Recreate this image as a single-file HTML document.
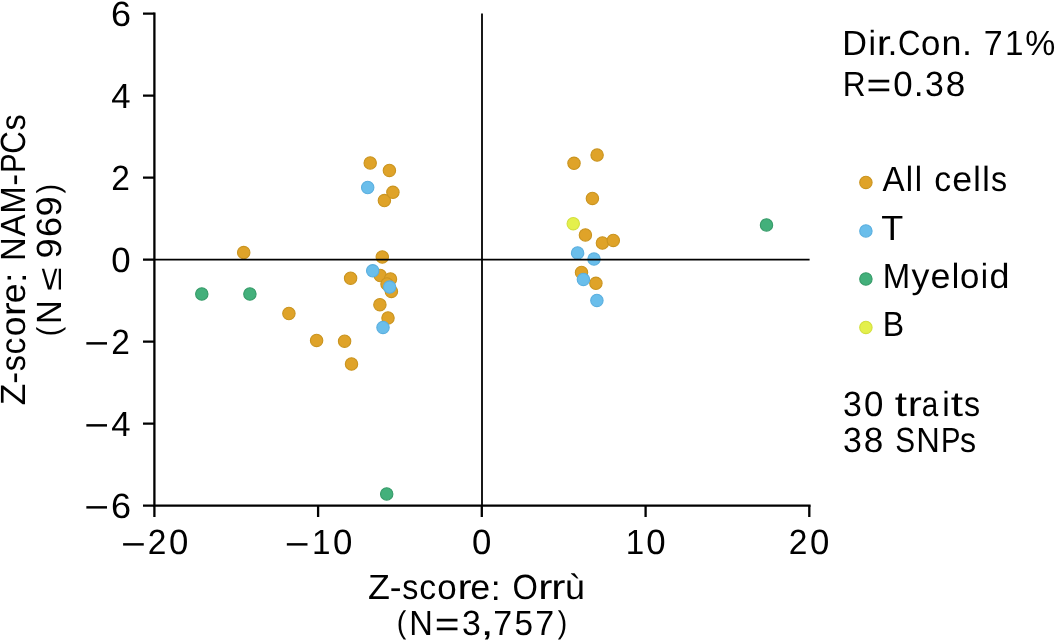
<!DOCTYPE html>
<html><head><meta charset="utf-8">
<style>
html,body{margin:0;padding:0;background:#fff;width:1057px;height:641px;overflow:hidden}
svg{display:block;will-change:transform}
text{font-family:"Liberation Sans",sans-serif;fill:#000;text-rendering:geometricPrecision}
</style></head>
<body>
<svg width="1057" height="641" viewBox="0 0 1057 641">
<rect width="1057" height="641" fill="#fff"/>
<!-- scatter points -->
<g fill="#DFA329" stroke="#CA941F" stroke-width="1.1"><circle cx="243.7" cy="252.6" r="6.2"/><circle cx="288.9" cy="313.5" r="6.2"/><circle cx="316.6" cy="340.4" r="6.2"/><circle cx="344.6" cy="341.2" r="6.2"/><circle cx="351.5" cy="364" r="6.2"/><circle cx="370.2" cy="162.9" r="6.2"/><circle cx="389.4" cy="170.4" r="6.2"/><circle cx="384.4" cy="200.6" r="6.2"/><circle cx="392.9" cy="192.3" r="6.2"/><circle cx="382.3" cy="257" r="6.2"/><circle cx="380.2" cy="275.5" r="6.2"/><circle cx="390.5" cy="278.9" r="6.2"/><circle cx="387" cy="284" r="6.2"/><circle cx="391.4" cy="291.4" r="6.2"/><circle cx="350.6" cy="278.2" r="6.2"/><circle cx="379.9" cy="304.7" r="6.2"/><circle cx="388" cy="318" r="6.2"/><circle cx="574" cy="163.3" r="6.2"/><circle cx="597.1" cy="155.1" r="6.2"/><circle cx="592.4" cy="198.4" r="6.2"/><circle cx="585.4" cy="234.9" r="6.2"/><circle cx="602.4" cy="243" r="6.2"/><circle cx="613.3" cy="240.4" r="6.2"/><circle cx="581.5" cy="272.4" r="6.2"/><circle cx="595.9" cy="283.3" r="6.2"/></g>
<g fill="#6ABEEB" stroke="#5BAFDF" stroke-width="1.1"><circle cx="367.7" cy="187.5" r="6.2"/><circle cx="372.7" cy="270.8" r="6.2"/><circle cx="389.6" cy="287.1" r="6.2"/><circle cx="383" cy="327.4" r="6.2"/><circle cx="577.6" cy="252.9" r="6.2"/><circle cx="594" cy="259.1" r="6.2"/><circle cx="583.4" cy="279.4" r="6.2"/><circle cx="596.9" cy="300.4" r="6.2"/></g>
<g fill="#43B07B" stroke="#379B69" stroke-width="1.1"><circle cx="201.8" cy="294" r="6.2"/><circle cx="249.9" cy="294" r="6.2"/><circle cx="386.7" cy="493.9" r="6.2"/><circle cx="766.5" cy="224.9" r="6.2"/></g>
<g fill="#E4F04C" stroke="#D3DF3E" stroke-width="1.1"><circle cx="573.25" cy="223.7" r="6.2"/></g>
<!-- zero lines -->
<g stroke="#000" stroke-width="1.8"><line x1="482" y1="13.6" x2="482" y2="505.6"/><line x1="154.4" y1="259.7" x2="809.6" y2="259.7"/></g>
<!-- spines and ticks -->
<g stroke="#000" stroke-width="2.3" fill="none"><path d="M154.4 12.5V506.7M153.3 505.6H810.6"/><path d="M143 13.6H154.4M143 95.6H154.4M143 177.6H154.4M143 259.6H154.4M143 341.6H154.4M143 423.6H154.4M143 505.6H154.4"/><path d="M154.4 505.6V517M318.1 505.6V517M481.8 505.6V517M645.6 505.6V517M809.3 505.6V517"/></g>
<!-- legend markers -->
<circle cx="865.9" cy="182.4" r="6.2" fill="#DFA329" stroke="#CA941F" stroke-width="1.1"/>
<circle cx="865.9" cy="230.9" r="6.2" fill="#6ABEEB" stroke="#5BAFDF" stroke-width="1.1"/>
<circle cx="865.9" cy="279" r="6.2" fill="#43B07B" stroke="#379B69" stroke-width="1.1"/>
<circle cx="865.9" cy="327.4" r="6.2" fill="#E4F04C" stroke="#D3DF3E" stroke-width="1.1"/>
<!-- text -->
<text font-size="35.00"><tspan x="111.03" y="26.00" textLength="20.03" lengthAdjust="spacingAndGlyphs">6</tspan></text>
<text font-size="35.00"><tspan x="111.36" y="108.00" textLength="19.34" lengthAdjust="spacingAndGlyphs">4</tspan></text>
<text font-size="35.00"><tspan x="111.31" y="190.00" textLength="18.63" lengthAdjust="spacingAndGlyphs">2</tspan></text>
<text font-size="35.00"><tspan x="111.33" y="272.00" textLength="19.37" lengthAdjust="spacingAndGlyphs">0</tspan></text>
<text font-size="35.00"><tspan x="84.25" y="354.86" textLength="24.84" lengthAdjust="spacingAndGlyphs">−</tspan><tspan x="111.31" y="354.00" textLength="18.63" lengthAdjust="spacingAndGlyphs">2</tspan></text>
<text font-size="35.00"><tspan x="84.25" y="436.86" textLength="24.84" lengthAdjust="spacingAndGlyphs">−</tspan><tspan x="111.36" y="436.00" textLength="19.34" lengthAdjust="spacingAndGlyphs">4</tspan></text>
<text font-size="35.00"><tspan x="84.25" y="518.86" textLength="24.84" lengthAdjust="spacingAndGlyphs">−</tspan><tspan x="111.03" y="518.00" textLength="20.03" lengthAdjust="spacingAndGlyphs">6</tspan></text>
<text font-size="35.00"><tspan x="120.94" y="555.56" textLength="24.86" lengthAdjust="spacingAndGlyphs">−</tspan><tspan x="147.86" y="553.70" textLength="18.65" lengthAdjust="spacingAndGlyphs">2</tspan><tspan x="169.10" y="553.70" textLength="19.34" lengthAdjust="spacingAndGlyphs">0</tspan></text>
<text font-size="35.00"><tspan x="284.73" y="555.56" textLength="24.83" lengthAdjust="spacingAndGlyphs">−</tspan><tspan x="312.12" y="553.70" textLength="18.52" lengthAdjust="spacingAndGlyphs">1</tspan><tspan x="332.88" y="553.70" textLength="19.37" lengthAdjust="spacingAndGlyphs">0</tspan></text>
<text font-size="35.00"><tspan x="472.10" y="553.70" textLength="19.34" lengthAdjust="spacingAndGlyphs">0</tspan></text>
<text font-size="35.00"><tspan x="625.70" y="553.70" textLength="18.47" lengthAdjust="spacingAndGlyphs">1</tspan><tspan x="646.33" y="553.70" textLength="19.37" lengthAdjust="spacingAndGlyphs">0</tspan></text>
<text font-size="35.00"><tspan x="788.86" y="553.70" textLength="18.65" lengthAdjust="spacingAndGlyphs">2</tspan><tspan x="810.10" y="553.70" textLength="19.34" lengthAdjust="spacingAndGlyphs">0</tspan></text>
<text font-size="35.00"><tspan x="368.07" y="598.60" textLength="21.90" lengthAdjust="spacingAndGlyphs">Z</tspan><tspan x="389.73" y="599.46" textLength="11.78" lengthAdjust="spacingAndGlyphs">-</tspan><tspan x="402.31" y="598.60" textLength="16.10" lengthAdjust="spacingAndGlyphs">s</tspan><tspan x="419.23" y="598.60" textLength="16.85" lengthAdjust="spacingAndGlyphs">c</tspan><tspan x="437.35" y="598.60" textLength="19.45" lengthAdjust="spacingAndGlyphs">o</tspan><tspan x="457.47" y="598.60" textLength="14.10" lengthAdjust="spacingAndGlyphs">r</tspan><tspan x="470.28" y="598.60" textLength="19.89" lengthAdjust="spacingAndGlyphs">e</tspan><tspan x="490.77" y="599.84" textLength="9.93" lengthAdjust="spacingAndGlyphs">:</tspan> <tspan x="512.39" y="598.60" textLength="25.41" lengthAdjust="spacingAndGlyphs">O</tspan><tspan x="538.15" y="598.60" textLength="14.14" lengthAdjust="spacingAndGlyphs">r</tspan><tspan x="551.15" y="598.60" textLength="14.14" lengthAdjust="spacingAndGlyphs">r</tspan><tspan x="564.96" y="598.60" textLength="19.87" lengthAdjust="spacingAndGlyphs">ù</tspan></text>
<text font-size="35.00"><tspan x="396.85" y="632.89" font-size="31.48" textLength="9.56" lengthAdjust="spacingAndGlyphs">(</tspan><tspan x="409.15" y="634.90" textLength="23.57" lengthAdjust="spacingAndGlyphs">N</tspan><tspan x="434.79" y="636.28" textLength="24.82" lengthAdjust="spacingAndGlyphs">=</tspan><tspan x="462.03" y="634.90" textLength="18.84" lengthAdjust="spacingAndGlyphs">3</tspan><tspan x="480.42" y="634.90" textLength="13.23" lengthAdjust="spacingAndGlyphs">,</tspan><tspan x="493.36" y="634.90" textLength="18.92" lengthAdjust="spacingAndGlyphs">7</tspan><tspan x="514.46" y="634.90" textLength="18.51" lengthAdjust="spacingAndGlyphs">5</tspan><tspan x="535.36" y="634.90" textLength="18.92" lengthAdjust="spacingAndGlyphs">7</tspan><tspan x="557.87" y="632.89" font-size="31.48" textLength="9.46" lengthAdjust="spacingAndGlyphs">)</tspan></text>
<text font-size="35.00" transform="rotate(-90)"><tspan x="-405.25" y="25.00" textLength="21.66" lengthAdjust="spacingAndGlyphs">Z</tspan><tspan x="-383.84" y="24.86" textLength="11.87" lengthAdjust="spacingAndGlyphs">-</tspan><tspan x="-371.20" y="25.00" textLength="16.29" lengthAdjust="spacingAndGlyphs">s</tspan><tspan x="-354.45" y="25.00" textLength="16.76" lengthAdjust="spacingAndGlyphs">c</tspan><tspan x="-336.32" y="25.00" textLength="19.80" lengthAdjust="spacingAndGlyphs">o</tspan><tspan x="-316.17" y="25.00" textLength="13.95" lengthAdjust="spacingAndGlyphs">r</tspan><tspan x="-303.36" y="25.00" textLength="19.88" lengthAdjust="spacingAndGlyphs">e</tspan><tspan x="-282.98" y="26.21" textLength="10.44" lengthAdjust="spacingAndGlyphs">:</tspan> <tspan x="-261.01" y="25.00" textLength="23.71" lengthAdjust="spacingAndGlyphs">N</tspan><tspan x="-236.42" y="25.00" textLength="22.18" lengthAdjust="spacingAndGlyphs">A</tspan><tspan x="-213.75" y="25.00" textLength="27.32" lengthAdjust="spacingAndGlyphs">M</tspan><tspan x="-185.84" y="24.86" textLength="11.86" lengthAdjust="spacingAndGlyphs">-</tspan><tspan x="-172.73" y="25.00" textLength="19.26" lengthAdjust="spacingAndGlyphs">P</tspan><tspan x="-153.69" y="25.00" textLength="22.54" lengthAdjust="spacingAndGlyphs">C</tspan><tspan x="-130.44" y="25.00" textLength="16.30" lengthAdjust="spacingAndGlyphs">s</tspan></text>
<text font-size="35.00" transform="rotate(-90)"><tspan x="-336.24" y="58.76" font-size="31.54" textLength="9.49" lengthAdjust="spacingAndGlyphs">(</tspan><tspan x="-324.01" y="61.30" textLength="23.71" lengthAdjust="spacingAndGlyphs">N</tspan> <tspan x="-290.73" y="61.38" font-size="31.97" textLength="23.46" lengthAdjust="spacingAndGlyphs">≤</tspan> <tspan x="-258.42" y="61.30" textLength="20.24" lengthAdjust="spacingAndGlyphs">9</tspan><tspan x="-237.14" y="61.30" textLength="20.05" lengthAdjust="spacingAndGlyphs">6</tspan><tspan x="-216.42" y="61.30" textLength="20.24" lengthAdjust="spacingAndGlyphs">9</tspan><tspan x="-193.49" y="58.76" font-size="31.54" textLength="9.55" lengthAdjust="spacingAndGlyphs">)</tspan></text>
<text font-size="35.00"><tspan x="842.31" y="54.60" textLength="24.69" lengthAdjust="spacingAndGlyphs">D</tspan><tspan x="868.44" y="54.60" textLength="7.49" lengthAdjust="spacingAndGlyphs">i</tspan><tspan x="876.73" y="54.60" textLength="14.08" lengthAdjust="spacingAndGlyphs">r</tspan><tspan x="887.53" y="54.60" textLength="9.91" lengthAdjust="spacingAndGlyphs">.</tspan><tspan x="897.98" y="54.60" textLength="22.39" lengthAdjust="spacingAndGlyphs">C</tspan><tspan x="921.12" y="54.60" textLength="19.36" lengthAdjust="spacingAndGlyphs">o</tspan><tspan x="941.56" y="54.60" textLength="19.93" lengthAdjust="spacingAndGlyphs">n</tspan><tspan x="962.11" y="54.60" textLength="9.92" lengthAdjust="spacingAndGlyphs">.</tspan> <tspan x="983.82" y="54.60" textLength="18.94" lengthAdjust="spacingAndGlyphs">7</tspan><tspan x="1004.90" y="54.60" textLength="18.50" lengthAdjust="spacingAndGlyphs">1</tspan><tspan x="1025.36" y="54.60" textLength="30.03" lengthAdjust="spacingAndGlyphs">%</tspan></text>
<text font-size="35.00"><tspan x="842.70" y="95.60" textLength="22.84" lengthAdjust="spacingAndGlyphs">R</tspan><tspan x="866.56" y="96.98" textLength="24.85" lengthAdjust="spacingAndGlyphs">=</tspan><tspan x="893.33" y="95.60" textLength="19.37" lengthAdjust="spacingAndGlyphs">0</tspan><tspan x="913.89" y="95.60" textLength="9.85" lengthAdjust="spacingAndGlyphs">.</tspan><tspan x="925.03" y="95.60" textLength="18.84" lengthAdjust="spacingAndGlyphs">3</tspan><tspan x="945.73" y="95.60" textLength="19.55" lengthAdjust="spacingAndGlyphs">8</tspan></text>
<text font-size="35.00"><tspan x="882.51" y="190.90" textLength="22.18" lengthAdjust="spacingAndGlyphs">A</tspan><tspan x="905.81" y="190.90" textLength="7.31" lengthAdjust="spacingAndGlyphs">l</tspan><tspan x="914.81" y="190.90" textLength="7.31" lengthAdjust="spacingAndGlyphs">l</tspan> <tspan x="934.23" y="190.90" textLength="16.85" lengthAdjust="spacingAndGlyphs">c</tspan><tspan x="952.28" y="190.90" textLength="19.89" lengthAdjust="spacingAndGlyphs">e</tspan><tspan x="973.14" y="190.90" textLength="7.50" lengthAdjust="spacingAndGlyphs">l</tspan><tspan x="982.14" y="190.90" textLength="7.50" lengthAdjust="spacingAndGlyphs">l</tspan><tspan x="991.12" y="190.90" textLength="16.09" lengthAdjust="spacingAndGlyphs">s</tspan></text>
<text font-size="35.00"><tspan x="881.26" y="239.80" textLength="21.99" lengthAdjust="spacingAndGlyphs">T</tspan></text>
<text font-size="35.00"><tspan x="882.83" y="287.80" textLength="27.41" lengthAdjust="spacingAndGlyphs">M</tspan><tspan x="911.51" y="287.80" textLength="17.88" lengthAdjust="spacingAndGlyphs">y</tspan><tspan x="930.64" y="287.80" textLength="19.89" lengthAdjust="spacingAndGlyphs">e</tspan><tspan x="951.67" y="287.80" textLength="7.50" lengthAdjust="spacingAndGlyphs">l</tspan><tspan x="960.12" y="287.80" textLength="19.36" lengthAdjust="spacingAndGlyphs">o</tspan><tspan x="980.84" y="287.80" textLength="7.30" lengthAdjust="spacingAndGlyphs">i</tspan><tspan x="989.54" y="287.80" textLength="19.96" lengthAdjust="spacingAndGlyphs">d</tspan></text>
<text font-size="35.00"><tspan x="882.80" y="336.10" textLength="21.38" lengthAdjust="spacingAndGlyphs">B</tspan></text>
<text font-size="35.00"><tspan x="843.03" y="415.50" textLength="18.84" lengthAdjust="spacingAndGlyphs">3</tspan><tspan x="863.88" y="415.50" textLength="19.37" lengthAdjust="spacingAndGlyphs">0</tspan> <tspan x="894.81" y="415.50" textLength="12.27" lengthAdjust="spacingAndGlyphs">t</tspan><tspan x="907.73" y="415.50" textLength="14.08" lengthAdjust="spacingAndGlyphs">r</tspan><tspan x="921.76" y="415.50" textLength="16.50" lengthAdjust="spacingAndGlyphs">a</tspan><tspan x="942.16" y="415.50" textLength="7.51" lengthAdjust="spacingAndGlyphs">i</tspan><tspan x="950.81" y="415.50" textLength="12.27" lengthAdjust="spacingAndGlyphs">t</tspan><tspan x="964.12" y="415.50" textLength="16.09" lengthAdjust="spacingAndGlyphs">s</tspan></text>
<text font-size="35.00"><tspan x="843.03" y="452.40" textLength="18.84" lengthAdjust="spacingAndGlyphs">3</tspan><tspan x="863.73" y="452.40" textLength="19.55" lengthAdjust="spacingAndGlyphs">8</tspan> <tspan x="895.24" y="452.40" textLength="19.82" lengthAdjust="spacingAndGlyphs">S</tspan><tspan x="916.15" y="452.40" textLength="23.57" lengthAdjust="spacingAndGlyphs">N</tspan><tspan x="941.02" y="452.40" textLength="19.47" lengthAdjust="spacingAndGlyphs">P</tspan><tspan x="960.12" y="452.40" textLength="16.09" lengthAdjust="spacingAndGlyphs">s</tspan></text>
</svg>
</body></html>
